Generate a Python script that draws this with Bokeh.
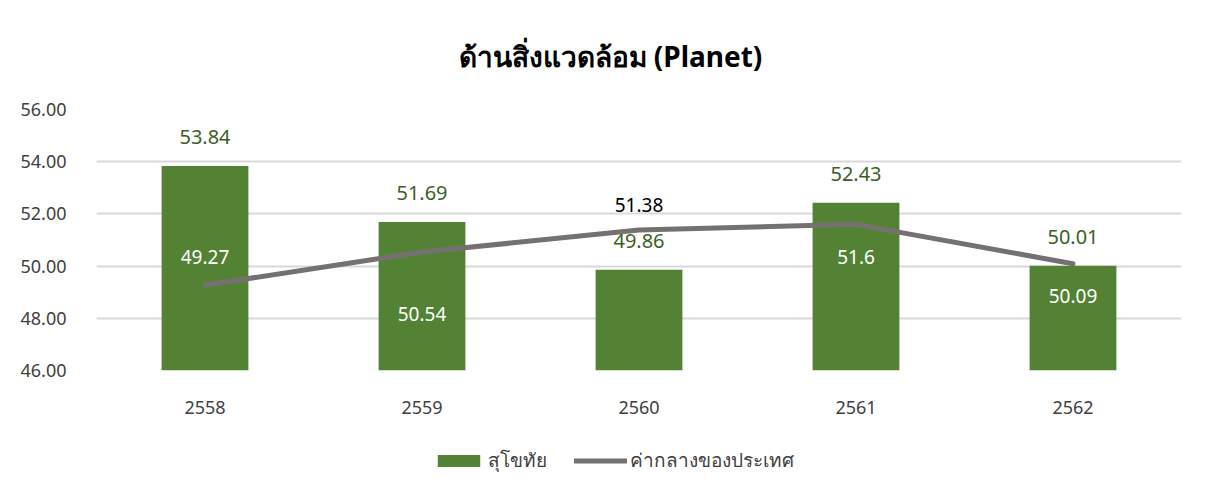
from bokeh.plotting import figure
from bokeh.layouts import column
from bokeh.models import ColumnDataSource, LabelSet, Legend, LegendItem, Range1d
from bokeh.core.properties import value
from bokeh.embed import file_html
from bokeh.resources import INLINE

years = ["2558", "2559", "2560", "2561", "2562"]
sukhothai = [53.84, 51.69, 49.86, 52.43, 50.01]
national = [49.27, 50.54, 51.38, 51.6, 50.09]
bar_labels = ["53.84", "51.69", "49.86", "52.43", "50.01"]
line_labels = ["49.27", "50.54", "51.38", "51.6", "50.09"]
line_label_offsets = [28, -62, 25, -33, -32]
line_label_colors = ["white", "white", "black", "white", "white"]
series_names = ["สุโขทัย", "ค่ากลางของประเทศ"]

FONT = "Noto Sans"
GREEN = "#548235"
DKGREEN = "#3A5F25"
GRAY = "#767171"

src = ColumnDataSource(dict(
    x=years, bar=sukhothai, line=national,
    blab=bar_labels, llab=line_labels,
    loff=line_label_offsets, lcol=line_label_colors,
))

p = figure(x_range=years, y_range=Range1d(46, 56), width=1209, height=430,
           output_backend="svg", toolbar_location=None,
           min_border_left=96, min_border_right=28,
           min_border_top=109, min_border_bottom=60)

bars = p.vbar(x="x", top="bar", bottom=46, width=0.4, source=src,
              fill_color=GREEN, line_color=None)
ln = p.line(x="x", y="line", source=src, line_color=GRAY, line_width=5,
            line_join="round", line_cap="round")

p.add_layout(LabelSet(x="x", y="bar", text="blab", source=src, y_offset=29,
                      text_align="center", text_baseline="middle",
                      text_font=value(FONT), text_font_size="20px",
                      text_color=DKGREEN))
p.add_layout(LabelSet(x="x", y="line", text="llab", source=src, y_offset="loff",
                      text_align="center", text_baseline="middle",
                      text_font=value(FONT), text_font_size="19px",
                      text_color="lcol"))

p.title.text = "ด้านสิ่งแวดล้อม (Planet)"
p.title.align = "left"
p.title.offset = 362
p.title.text_font = FONT
p.title.text_font_size = "28px"
p.title.text_font_style = "bold"
p.title.text_color = "black"
p.title.standoff = 69

p.xgrid.grid_line_color = None
p.ygrid.grid_line_color = "#d9d9d9"
p.ygrid.grid_line_width = 2
p.outline_line_color = None

p.yaxis.axis_line_color = None
p.yaxis.major_tick_line_color = None
p.yaxis.minor_tick_line_color = None
p.yaxis.major_label_text_font = FONT
p.yaxis.major_label_text_font_size = "18px"
p.yaxis.major_label_text_color = "#404040"
p.yaxis.major_label_standoff = 24
p.yaxis.ticker = [46, 48, 50, 52, 54, 56]
p.yaxis.major_label_overrides = {46: "46.00", 48: "48.00", 50: "50.00",
                                 52: "52.00", 54: "54.00", 56: "56.00"}

p.xaxis.axis_line_color = None
p.xaxis.major_tick_line_color = None
p.xaxis.major_label_text_font = FONT
p.xaxis.major_label_text_font_size = "18px"
p.xaxis.major_label_text_color = "#404040"
p.xaxis.major_label_standoff = 24

# legend strip below the chart (its swatch renderers sit outside the visible range)
lg = figure(width=1209, height=65, x_range=Range1d(0, 1), y_range=Range1d(0, 1),
            x_axis_type=None, y_axis_type=None,
            output_backend="svg", toolbar_location=None,
            min_border=0, outline_line_color=None)
lg.grid.visible = False
lbar = lg.vbar(x=[5], top=[5], bottom=[4], width=0.1, fill_color=GREEN, line_color=None)
lline = lg.line(x=[5, 6], y=[5, 5], line_color=GRAY, line_width=5, line_cap="round")
legend = Legend(items=[LegendItem(label=series_names[0], renderers=[lbar]),
                       LegendItem(label=series_names[1], renderers=[lline])],
                orientation="horizontal", location=(336, 20),
                glyph_width=53, glyph_height=15, label_standoff=3, spacing=27,
                label_text_font=FONT, label_text_font_size="19px",
                label_text_color="#404040", border_line_color=None,
                background_fill_alpha=0, margin=0, padding=0)
lg.add_layout(legend)

open("out.html", "w").write(file_html(column(p, lg, spacing=0), INLINE))
